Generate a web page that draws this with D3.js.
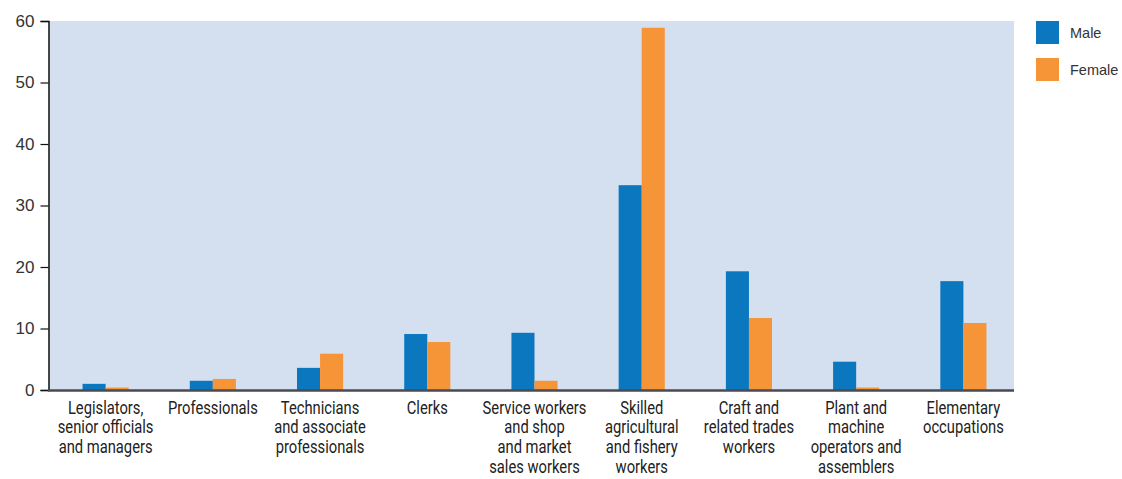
<!DOCTYPE html>
<html><head><meta charset="utf-8">
<script src="https://cdn.jsdelivr.net/npm/d3@7"></script>
<style>body{margin:0;background:#fff}</style>
</head><body><svg id="c" width="1122" height="479"></svg>
<script>
const categories = [
  ["Legislators,","senior officials","and managers"],
  ["Professionals"],
  ["Technicians","and associate","professionals"],
  ["Clerks"],
  ["Service workers","and shop","and market","sales workers"],
  ["Skilled","agricultural","and fishery","workers"],
  ["Craft and","related trades","workers"],
  ["Plant and","machine","operators and","assemblers"],
  ["Elementary","occupations"]
];
const male   = [1.0, 1.5, 3.6, 9.1, 9.3, 33.3, 19.3, 4.6, 17.7];
const female = [0.4, 1.8, 5.9, 7.8, 1.5, 58.9, 11.7, 0.4, 10.9];
const seriesNames = ["Male","Female"];
const colors = ["#0a77bf","#f69537"];
const yTicks = [0,10,20,30,40,50,60];

const svg = d3.select("#c");
const L = 48.5, R = 1014, T = 21, B = 390;
const idx = d3.range(categories.length);
const x0 = d3.scaleBand().domain(idx).range([52, 1017]).paddingInner(0.57).paddingOuter(0.285);
const x1 = d3.scaleBand().domain([0,1]).range([0, x0.bandwidth()]);
const y = d3.scaleLinear().domain([0,60]).range([B, T]);

svg.append("rect").attr("x", L).attr("y", T).attr("width", R - L).attr("height", B - T).attr("fill", "#d4dff0");

const data = [male, female];
data.forEach((vals, s) => {
  svg.append("g").selectAll("rect").data(vals).join("rect")
    .attr("x", (d,i) => x0(i) + x1(s))
    .attr("y", d => y(d))
    .attr("width", x1.bandwidth())
    .attr("height", d => B - y(d))
    .attr("fill", colors[s]);
});

// y axis
const ya = svg.append("g").attr("transform", `translate(${L},0)`)
  .call(d3.axisLeft(y).tickValues(yTicks).tickSize(8).tickPadding(6));
ya.select(".domain").attr("stroke", "#111").attr("stroke-width", 1.5);
ya.selectAll(".tick line").attr("stroke", "#111").attr("stroke-width", 1.2);
ya.selectAll(".tick text").attr("font-family", "Liberation Sans, Arial, sans-serif").attr("font-size", 17).attr("fill", "#333");

// x axis line
svg.append("line").attr("x1", L - 0.5).attr("x2", R).attr("y1", B + 0.5).attr("y2", B + 0.5)
  .attr("stroke", "#4a4b52").attr("stroke-width", 2.5);

// category labels (condensed look via horizontal scale)
const lab = svg.append("g").selectAll("text").data(categories).join("text")
  .attr("transform", (d,i) => `translate(${x0(i) + x0.bandwidth()/2},413.5) scale(0.82,1)`)
  .attr("text-anchor", "middle")
  .attr("font-family", "Roboto, Liberation Sans, sans-serif")
  .attr("font-size", 18)
  .attr("fill", "#222");
lab.selectAll("tspan").data(d => d).join("tspan")
  .attr("x", 0)
  .attr("dy", (d,i) => i === 0 ? 0 : 19.7)
  .text(d => d);

// legend
const lg = svg.append("g").selectAll("g").data(seriesNames).join("g")
  .attr("transform", (d,i) => `translate(1036,${21 + i*37})`);
lg.append("rect").attr("width", 23).attr("height", 23).attr("fill", (d,i) => colors[i]);
lg.append("text").attr("x", 34).attr("y", 17).text(d => d)
  .attr("font-family", "Liberation Sans, Arial, sans-serif").attr("font-size", 14.5).attr("fill", "#333");
</script></body></html>
